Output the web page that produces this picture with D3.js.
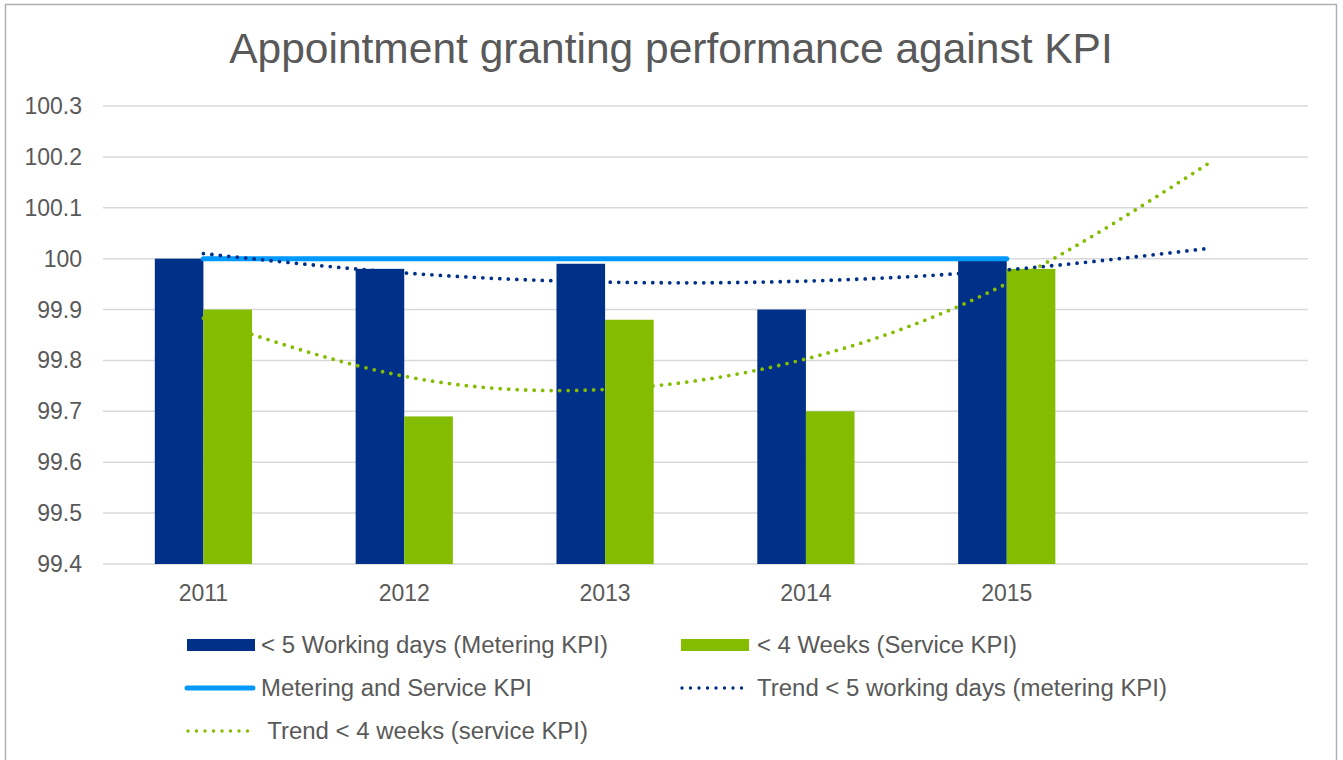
<!DOCTYPE html>
<html>
<head>
<meta charset="utf-8">
<script src="https://cdn.jsdelivr.net/npm/d3@7"></script>
<style>
  body { margin: 0; background: #fff; }
  svg { display: block; font-family: "Liberation Sans", Arial, sans-serif; }
</style>
</head>
<body>
<svg></svg>
<script>
let width = 1343, height = 760

// data
let years = ['2011', '2012', '2013', '2014', '2015', '']
let metering = [100, 99.98, 99.99, 99.9, 100]
let service = [99.9, 99.69, 99.88, 99.7, 99.98]
let kpi = [100, 100, 100, 100, 100]
let meteringTrend = [100.01, 99.972, 99.954, 99.956, 99.978, 100.02]
let serviceTrend = [99.883, 99.769, 99.743, 99.803, 99.951, 100.186]
let yTicks = [99.4, 99.5, 99.6, 99.7, 99.8, 99.9, 100, 100.1, 100.2, 100.3]

let blue = '#003087', green = '#84bc00', kpiBlue = '#0099ff', grey = '#595959'

let svg = d3.select('svg').attr('width', width).attr('height', height)

// outer chart border
svg.append('rect')
    .attr('x', 5.5).attr('y', 4.5)
    .attr('width', 1331).attr('height', 770)
    .attr('fill', 'none').attr('stroke', '#b0b0b0').attr('stroke-width', 1.5)

svg.append('text')
    .attr('x', 671).attr('y', 63)
    .attr('text-anchor', 'middle')
    .attr('font-size', 42.5)
    .attr('fill', grey)
    .text('Appointment granting performance against KPI')

let x = d3.scaleBand().domain(years).range([103, 1308]).paddingInner(0.516).paddingOuter(0.258)
let y = d3.scaleLinear().domain([99.4, 100.3]).range([564, 106])
let cx = (i) => x(years[i]) + x.bandwidth() / 2

// grid
svg.append('g').selectAll('line')
    .data(yTicks)
    .enter()
    .append('line')
    .attr('x1', 103).attr('x2', 1308)
    .attr('y1', d => y(d)).attr('y2', d => y(d))
    .attr('stroke', '#d9d9d9').attr('stroke-width', 1.5)

svg.append('g').selectAll('text')
    .data(yTicks)
    .enter()
    .append('text')
    .attr('x', 82).attr('y', d => y(d))
    .attr('dy', '0.35em')
    .attr('text-anchor', 'end')
    .attr('font-size', 23)
    .attr('fill', grey)
    .text(d => d3.format('.1f')(d).replace('100.0', '100'))

svg.append('g').selectAll('text')
    .data(years)
    .enter()
    .append('text')
    .attr('x', (d, i) => cx(i)).attr('y', 601)
    .attr('text-anchor', 'middle')
    .attr('font-size', 23)
    .attr('fill', grey)
    .text(d => d)

// bars
let bw = x.bandwidth() / 2
svg.append('g').selectAll('rect')
    .data(metering)
    .enter()
    .append('rect')
    .attr('x', (d, i) => x(years[i]))
    .attr('y', d => y(d))
    .attr('width', bw)
    .attr('height', d => y(99.4) - y(d))
    .attr('fill', blue)

svg.append('g').selectAll('rect')
    .data(service)
    .enter()
    .append('rect')
    .attr('x', (d, i) => x(years[i]) + bw)
    .attr('y', d => y(d))
    .attr('width', bw)
    .attr('height', d => y(99.4) - y(d))
    .attr('fill', green)

let line = d3.line().x((d, i) => cx(i)).y(d => y(d))

svg.append('path')
    .attr('d', line(kpi))
    .attr('fill', 'none').attr('stroke', kpiBlue)
    .attr('stroke-width', 5).attr('stroke-linecap', 'round')

let trendLine = d3.line().x((d, i) => cx(i)).y(d => y(d)).curve(d3.curveNatural)

svg.append('path')
    .attr('d', trendLine(meteringTrend))
    .attr('fill', 'none').attr('stroke', blue)
    .attr('stroke-width', 3.8).attr('stroke-linecap', 'round')
    .attr('stroke-dasharray', '0 8.5')

svg.append('path')
    .attr('d', trendLine(serviceTrend))
    .attr('fill', 'none').attr('stroke', green)
    .attr('stroke-width', 3.8).attr('stroke-linecap', 'round')
    .attr('stroke-dasharray', '0 8.5')

// legend
let legend = [
    {label: '< 5 Working days (Metering KPI)', type: 'rect', color: blue, x: 187, y: 645, tx: 261, len: 347},
    {label: '< 4 Weeks (Service KPI)', type: 'rect', color: green, x: 681, y: 645, tx: 757, len: 260},
    {label: 'Metering and Service KPI', type: 'line', color: kpiBlue, x: 187, y: 688, tx: 261, len: 271},
    {label: 'Trend < 5 working days (metering KPI)', type: 'dot', color: blue, x: 681, y: 688, tx: 757, len: 410},
    {label: ' Trend < 4 weeks (service KPI)', type: 'dot', color: green, x: 187, y: 731, tx: 261, len: 327},
]

let lg = svg.append('g').selectAll('g')
    .data(legend)
    .enter()
    .append('g')

lg.each(function(d) {
    let g = d3.select(this)
    if (d.type === 'rect') {
        g.append('rect').attr('x', d.x).attr('y', d.y - 6).attr('width', 68).attr('height', 12).attr('fill', d.color)
    } else if (d.type === 'line') {
        g.append('line').attr('x1', d.x).attr('x2', d.x + 66).attr('y1', d.y).attr('y2', d.y)
            .attr('stroke', d.color).attr('stroke-width', 5).attr('stroke-linecap', 'round')
    } else {
        g.append('line').attr('x1', d.x + 1).attr('x2', d.x + 66).attr('y1', d.y).attr('y2', d.y)
            .attr('stroke', d.color).attr('stroke-width', 3.4).attr('stroke-linecap', 'round')
            .attr('stroke-dasharray', '0 8.5')
    }
    g.append('text')
        .attr('x', d.tx).attr('y', d.y)
        .attr('dy', '0.35em')
        .attr('font-size', 23)
        .attr('fill', grey)
        .attr('xml:space', 'preserve')
        .style('white-space', 'pre')
        .attr('textLength', d.len).attr('lengthAdjust', 'spacingAndGlyphs')
        .text(d.label)
})
</script>
</body>
</html>
